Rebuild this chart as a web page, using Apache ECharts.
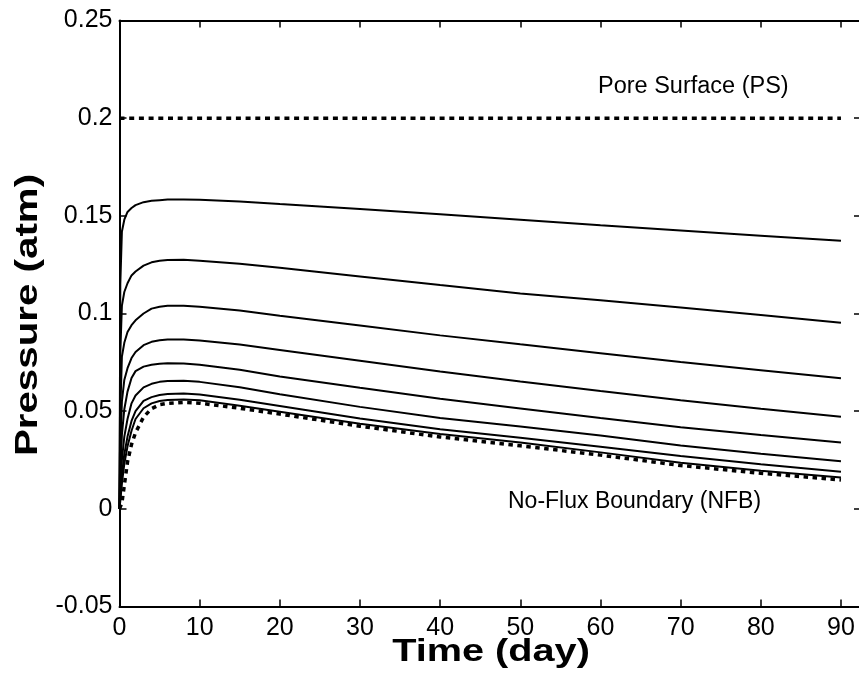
<!DOCTYPE html>
<html>
<head>
<meta charset="utf-8">
<script src="https://cdn.jsdelivr.net/npm/echarts@6/dist/echarts.min.js"></script>
<style>
html,body{margin:0;padding:0;background:#fff;}
#chart{width:859px;height:677px;}
</style>
</head>
<body>
<div id="chart"></div>
<script>
// ---- data ----
const timeDays = [0, 0.1, 0.3, 0.6, 1, 1.5, 2, 3, 4, 5, 6, 8, 10, 15, 20, 30, 40, 50, 60, 70, 80, 90];
const curve1 = [0, 0.115, 0.142, 0.148, 0.152, 0.154, 0.1555, 0.157, 0.1577, 0.158, 0.1583, 0.1584, 0.1582, 0.1573, 0.156, 0.1535, 0.1508, 0.148, 0.1452, 0.1425, 0.1398, 0.1372];
const curve2 = [0, 0.08, 0.104, 0.111, 0.1155, 0.1195, 0.1215, 0.1245, 0.1262, 0.127, 0.1274, 0.1275, 0.127, 0.1255, 0.1234, 0.119, 0.1146, 0.1103, 0.1068, 0.1031, 0.0992, 0.0953];
const curve3 = [0, 0.05, 0.078, 0.085, 0.0905, 0.094, 0.0965, 0.1, 0.1025, 0.1035, 0.104, 0.104, 0.1035, 0.1015, 0.0988, 0.0938, 0.0888, 0.0842, 0.0797, 0.0752, 0.071, 0.0668];
const curve4 = [0, 0.03, 0.055, 0.066, 0.072, 0.0772, 0.0803, 0.0838, 0.0855, 0.0863, 0.0867, 0.0867, 0.0862, 0.0841, 0.0813, 0.0758, 0.0703, 0.0652, 0.0603, 0.0556, 0.0512, 0.0471];
const curve5 = [0, 0.018, 0.038, 0.051, 0.06, 0.067, 0.0705, 0.0728, 0.0738, 0.0743, 0.0745, 0.0744, 0.0738, 0.0712, 0.0678, 0.062, 0.0563, 0.0514, 0.0465, 0.0418, 0.0378, 0.034];
const curve6 = [0, 0.01, 0.025, 0.037, 0.046, 0.054, 0.058, 0.0622, 0.064, 0.065, 0.0655, 0.0656, 0.065, 0.0623, 0.0587, 0.0522, 0.0465, 0.0422, 0.0375, 0.0324, 0.0282, 0.0243];
const curve7 = [0, 0.006, 0.017, 0.028, 0.037, 0.045, 0.05, 0.0553, 0.0572, 0.0583, 0.0588, 0.059, 0.0585, 0.0558, 0.0526, 0.0462, 0.0408, 0.0364, 0.0318, 0.027, 0.0228, 0.019];
const curve8 = [0, 0.004, 0.013, 0.023, 0.032, 0.04, 0.046, 0.0515, 0.054, 0.0552, 0.0557, 0.056, 0.0556, 0.0528, 0.0497, 0.0435, 0.0383, 0.034, 0.0289, 0.0236, 0.0195, 0.016];
const nfbCurve = [0, 0.001, 0.003, 0.012, 0.024, 0.033, 0.039, 0.047, 0.0513, 0.0533, 0.054, 0.0545, 0.0541, 0.0515, 0.0485, 0.0423, 0.0368, 0.0323, 0.0275, 0.0222, 0.0182, 0.0148];
const psTime = [0, 90];
const psValue = [0.2, 0.2];
const xTicks = [0, 10, 20, 30, 40, 50, 60, 70, 80, 90];
const yTickLabels = ['-0.05', '0', '0.05', '0.1', '0.15', '0.2', '0.25'];
const solidCurves = [curve1, curve2, curve3, curve4, curve5, curve6, curve7, curve8];
const xTitle = 'Time (day)';
const yTitle = 'Pressure (atm)';
const psLabel = 'Pore Surface (PS)';
const nfbLabel = 'No-Flux Boundary (NFB)';

// ---- chart ----
const FONT = '"Liberation Sans", Arial, sans-serif';
const pair = (xs, ys) => xs.map((x, i) => [x, ys[i]]);
const chart = echarts.init(document.getElementById('chart'), null, {renderer: 'canvas'});

const series = solidCurves.map(c => ({
  type: 'line', data: pair(timeDays, c), showSymbol: false, symbol: 'none',
  lineStyle: {color: '#000', width: 2}, silent: true, animation: false
}));
series.push({
  type: 'line', data: pair(timeDays, nfbCurve), showSymbol: false, symbol: 'none',
  lineStyle: {color: '#000', width: 3.5, type: [4.5, 4.5]}, silent: true, animation: false, z: 3
});
series.push({
  type: 'line', data: pair(psTime, psValue), showSymbol: false, symbol: 'none',
  lineStyle: {color: '#000', width: 3.5, type: [5, 4.7]}, silent: true, animation: false
});

const axisLine = {show: true, onZero: false, lineStyle: {color: '#000', width: 2}};
const axisTick = {show: true, inside: true, length: 7, lineStyle: {color: '#000', width: 1.5}};

chart.setOption({
  animation: false,
  backgroundColor: '#fff',
  grid: {left: 119.5, top: 20.5, width: 741.5, height: 586, containLabel: false, outerBoundsMode: 'none'},
  xAxis: [{
    type: 'value', min: 0, max: 92.5, interval: 10, position: 'bottom',
    axisLine, axisTick, splitLine: {show: false},
    axisLabel: {
      color: '#000', fontSize: 25, fontFamily: FONT, margin: 9, showMaxLabel: false,
      formatter: v => xTicks.includes(v) ? String(v) : ''
    }
  }, {
    type: 'value', min: 0, max: 92.5, interval: 10, position: 'top',
    axisLine, axisTick, axisLabel: {show: false}, splitLine: {show: false}
  }],
  yAxis: [{
    type: 'value', min: -0.05, max: 0.25, interval: 0.05, position: 'left',
    axisLine, axisTick, splitLine: {show: false},
    axisLabel: {
      color: '#000', fontSize: 25, fontFamily: FONT, margin: 7,
      formatter: v => {
        const s = String(parseFloat(v.toFixed(2)));
        return yTickLabels.includes(s) ? s : '';
      }
    }
  }, {
    type: 'value', min: -0.05, max: 0.25, interval: 0.05, position: 'right',
    axisLine, axisTick, axisLabel: {show: false}, splitLine: {show: false}
  }],
  graphic: [
    {type: 'text', x: 491, y: 652, scaleX: 1.28, silent: true,
     style: {text: xTitle, fill: '#000', font: 'bold 31px ' + FONT, textAlign: 'center', textVerticalAlign: 'middle'}},
    {type: 'text', x: 28, y: 315, rotation: Math.PI / 2, scaleX: 1.3, silent: true,
     style: {text: yTitle, fill: '#000', font: 'bold 31px ' + FONT, textAlign: 'center', textVerticalAlign: 'middle'}},
    {type: 'text', left: 598, top: 75, silent: true, style: {text: psLabel, fill: '#000', font: '23.5px ' + FONT}},
    {type: 'text', left: 508, top: 490, silent: true, style: {text: nfbLabel, fill: '#000', font: '23px ' + FONT}}
  ],
  series
});
</script>
</body>
</html>
